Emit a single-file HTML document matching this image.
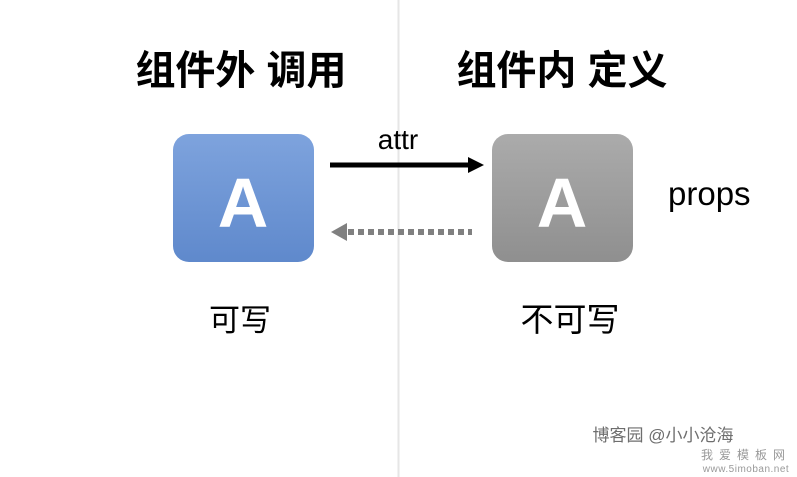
<!DOCTYPE html>
<html><head><meta charset="utf-8"><style>
html,body{margin:0;padding:0;background:#fff;}
svg{display:block;}
text{font-family:"Liberation Sans","Noto Sans CJK SC",sans-serif;}
</style></head><body>
<svg width="797" height="477" viewBox="0 0 797 477" xmlns="http://www.w3.org/2000/svg">
<defs>
<linearGradient id="gb" x1="0" y1="0" x2="0" y2="1"><stop offset="0" stop-color="#7ea3dd"/><stop offset="1" stop-color="#5f89cc"/></linearGradient>
<linearGradient id="gg" x1="0" y1="0" x2="0" y2="1"><stop offset="0" stop-color="#ababab"/><stop offset="1" stop-color="#8f8f8f"/></linearGradient>
</defs>
<rect width="797" height="477" fill="#fff"/>
<line x1="398.5" y1="0" x2="398.5" y2="477" stroke="#e6e6e6" stroke-width="2"/>
<text x="241" y="84" font-size="40" font-weight="bold" text-anchor="middle" fill="#000">组件外 调用</text>
<text x="562" y="84" font-size="40" font-weight="bold" text-anchor="middle" fill="#000">组件内 定义</text>
<rect x="173" y="134" width="141" height="128" rx="16" fill="url(#gb)"/>
<rect x="492" y="134" width="141" height="128" rx="16" fill="url(#gg)"/>
<text x="243" y="227" font-size="70" font-weight="bold" text-anchor="middle" fill="#fff">A</text>
<text x="562" y="227" font-size="70" font-weight="bold" text-anchor="middle" fill="#fff">A</text>
<text x="398" y="149" font-size="28" text-anchor="middle" fill="#000">attr</text>
<line x1="330" y1="165" x2="470" y2="165" stroke="#000" stroke-width="5"/>
<polygon points="468,157 484,165 468,173" fill="#000"/>
<line x1="348" y1="232" x2="472" y2="232" stroke="#808080" stroke-width="6" stroke-dasharray="6,4"/>
<polygon points="347,223 331,232 347,241" fill="#808080"/>
<text x="668" y="205" font-size="33" fill="#000">props</text>
<text x="240" y="331" font-size="31" text-anchor="middle" fill="#000">可写</text>
<text x="570" y="331" font-size="33" text-anchor="middle" fill="#000">不可写</text>
<text x="663" y="441" font-size="17" text-anchor="middle" fill="#6e6e6e">博客园 @小小沧海</text>
<text x="746" y="459" font-size="12" text-anchor="middle" fill="#999" letter-spacing="6">我爱模板网</text>
<text x="746" y="472" font-size="10" text-anchor="middle" fill="#999" font-family="DejaVu Sans Mono,monospace" letter-spacing="0.5">www.5imoban.net</text>
</svg>
</body></html>
